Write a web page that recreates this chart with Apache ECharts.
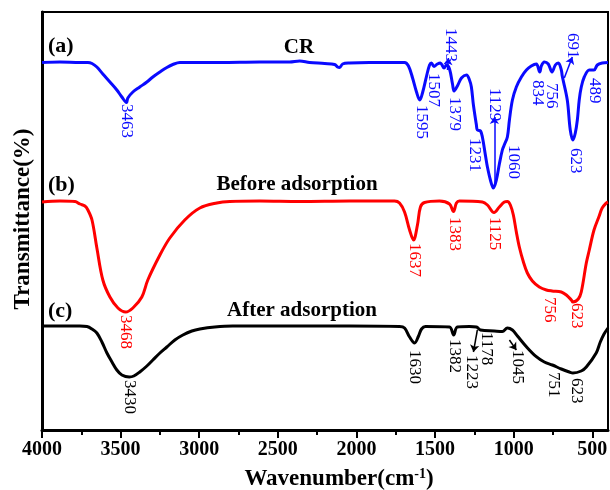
<!DOCTYPE html>
<html><head><meta charset="utf-8">
<script src="https://cdn.jsdelivr.net/npm/echarts@6/dist/echarts.min.js"></script>
<style>html,body{margin:0;padding:0;background:#fff}#c{width:610px;height:490px}</style>
</head><body><div id="c"></div>
<script>
// Wavenumber (cm-1) vs transmittance (arbitrary offset units)
const crData = [[4000,367.5],[3886,368],[3759,367.5],[3708,367.5],[3682,366.5],[3651,363],[3613,356],[3568,348],[3524,340],[3492,333],[3463,327.5],[3454,332],[3422,338],[3378,343],[3333,348],[3295,353],[3250,358],[3206,362.5],[3168,365.5],[3123,367.5],[2996,367.5],[2869,367.5],[2615,368],[2425,368],[2361,369],[2298,367.5],[2202,366.5],[2139,365.5],[2120,363],[2107,362.5],[2088,366],[2044,367],[1917,367.5],[1758,367.5],[1694,367.5],[1669,364],[1643,352],[1618,338],[1597,330],[1580,337],[1554,354],[1535,365],[1523,367],[1507,363.5],[1485,366],[1466,367],[1443,362],[1427,365],[1408,361],[1389,346],[1379,339],[1358,344],[1332,352],[1300,355],[1281,350],[1269,343],[1256,325],[1237,305],[1231,300],[1211,299],[1199,293],[1180,275],[1167,263],[1148,250],[1129,242],[1110,250],[1091,266],[1072,280],[1060,285],[1040,293],[1027,310],[1008,330],[983,343],[951,353],[919,360],[888,364],[856,366],[834,358],[824,364],[805,368],[780,366],[756,358],[735,365],[716,367],[697,360],[691,354],[659,330],[640,300],[623,290],[608,297],[595,310],[583,330],[570,343],[551,353],[519,360],[489,360],[468,365],[437,367],[400,367.5]];
const beforeData = [[4000,228],[3886,229],[3790,228.5],[3759,226],[3727,224],[3708,220],[3682,210],[3651,182],[3613,150],[3568,133],[3517,122],[3468,118],[3422,122],[3365,133],[3327,150],[3250,175],[3187,192],[3092,210],[2996,222],[2888,227],[2806,228.5],[2615,229],[2361,228.5],[2044,229],[1758,229],[1726,227],[1694,218],[1662,200],[1637,190],[1612,205],[1593,223],[1567,227.5],[1472,229],[1408,226],[1383,218.5],[1364,227],[1345,229],[1199,228],[1167,225],[1125,217.5],[1091,223],[1059,228],[1040,228.5],[1021,225],[1002,215],[983,198],[964,183],[938,168],[913,157],[881,149],[837,143],[792,140],[756,139],[697,138],[665,135],[633,130],[623,128],[589,131],[570,138],[538,167],[519,180],[489,200],[456,214],[437,222],[411,227],[400,228]];
const afterData = [[4000,104],[3759,104],[3714,103.5],[3682,101],[3651,97],[3619,88],[3587,77],[3555,68],[3524,60],[3492,55],[3445,53],[3416,54],[3378,58],[3333,64],[3295,70],[3250,77],[3206,83],[3155,90],[3104,95],[3047,99],[2996,101],[2901,103],[2787,104],[2361,104],[2044,104],[1726,103.5],[1694,102],[1662,93],[1630,87],[1605,94],[1586,101],[1561,103.5],[1408,103],[1382,95],[1358,103],[1281,103.5],[1237,103],[1211,100],[1123,99],[1072,98.5],[1040,102],[1008,100],[976,94],[919,83.3],[856,73.3],[805,68],[754,65],[697,61],[646,58],[623,57],[570,59],[538,63],[475,77],[449,88],[425,96],[400,102]];

const xTickValues = [500,1000,1500,2000,2500,3000,3500,4000];
const xMinorTickValues = [750,1250,1750,2250,2750,3250,3750];

// peak annotations: [wavenumber, transmittance at top of text, text]
const crPeaks = [[3463,326,'3463'],[1586,325,'1595'],[1507,357,'1507'],[1402,402,'1443'],[1374,333,'1379'],[1250,292,'1231'],[1123,342,'1129'],[1002,285,'1060'],[849,350,'834'],[760,347,'756'],[627,397,'691'],[608,282,'623'],[487,352,'489']];
const beforePeaks = [[3468,115,'3468'],[1631,187,'1637'],[1377,213,'1383'],[1123,213,'1125'],[773,133,'756'],[602,127,'623']];
const afterPeaks = [[3441,50,'3430'],[1631,80,'1630'],[1377,91,'1382'],[1269,75,'1223'],[1173,98,'1178'],[976,80,'1045'],[748,58,'751'],[602,52,'623']];
const crArrows = [[[1421,360],[1415,372]],[[1123,244],[1123,313]],[[678,352],[627,373]]];
const afterArrows = [[[1231,100],[1256,78]],[[1027,90],[983,80]]];

const FONT = '"Liberation Serif","Times New Roman",serif';
const BLUE = '#0a0aff', RED = '#ff0000', BLACK = '#000000';

function arrowLines(arr){ return arr.map(a => [{coord:a[0]},{coord:a[1]}]); }
function lineSeries(data, color, arrows){
  const s = {type:'line', data, showSymbol:false, smooth:0.35, color,
    lineStyle:{width:3, color}, animation:false, z:3};
  if (arrows) s.markLine = {silent:true, symbol:['none','arrow'], symbolSize:7, animation:false,
    label:{show:false}, lineStyle:{type:'solid', width:1.5, color}, data: arrowLines(arrows)};
  return s;
}

const chart = echarts.init(document.getElementById('c'), null, {renderer:'canvas'});
chart.setOption({
  backgroundColor:'#fff',
  animation:false,
  grid:{left:42, right:2, top:12, bottom:60, show:true, borderColor:'#000', borderWidth:2, containLabel:false, outerBoundsMode:'none'},
  xAxis:[{type:'value', inverse:true, min:400, max:4000, position:'bottom',
    axisLine:{show:true, lineStyle:{color:'#000', width:3}},
    axisTick:{show:true, inside:false, length:8, lineStyle:{width:2, color:'#000'}, customValues:xTickValues},
    axisLabel:{show:true, margin:10, color:'#000', fontFamily:FONT, fontWeight:'bold', fontSize:20, customValues:xTickValues, formatter: v => String(v), hideOverlap:false},
    splitLine:{show:false}},
   {type:'value', show:true, inverse:true, min:400, max:4000, position:'bottom', gridIndex:0,
    axisLine:{show:false},
    axisTick:{show:true, inside:false, length:5, lineStyle:{width:2, color:'#000'}, customValues:xMinorTickValues},
    axisLabel:{show:false}, splitLine:{show:false}}],
  yAxis:{type:'value', min:0, max:418,
    axisLine:{show:true, lineStyle:{color:'#000', width:3}},
    axisTick:{show:false}, axisLabel:{show:false}, splitLine:{show:false}},
  series:[lineSeries(crData, BLUE, crArrows), lineSeries(beforeData, RED, null), lineSeries(afterData, BLACK, afterArrows)]
});

const g = [];
function addPeaks(list, color){
  list.forEach(p => {
    const pt = chart.convertToPixel({xAxisIndex:0, yAxisIndex:0}, [p[0], p[1]]);
    g.push({type:'text', x:pt[0], y:pt[1], rotation:-Math.PI/2, z:10,
      style:{text:p[2], fill:color, font:'17px '+FONT, textAlign:'left', align:'left', textVerticalAlign:'middle', verticalAlign:'middle'}});
  });
}
addPeaks(crPeaks, BLUE); addPeaks(beforePeaks, RED); addPeaks(afterPeaks, BLACK);
function addText(x, y, text, size, align, rot){
  g.push({type:'text', x, y, rotation:rot||0, z:10,
    style:{text, fill:'#000', font:'bold '+size+'px '+FONT, textAlign:align, align:align, textVerticalAlign:'middle', verticalAlign:'middle'}});
}
addText(48, 46, '(a)', 22, 'left');
addText(299, 48, 'CR', 21, 'center');
addText(48, 185, '(b)', 22, 'left');
addText(297, 185, 'Before adsorption', 21, 'center');
addText(48, 311, '(c)', 22, 'left');
addText(302, 311, 'After adsorption', 21, 'center');
addText(23, 219, 'Transmittance(%)', 23, 'center', Math.PI/2);
g.push({type:'text', x:339, y:479, z:10,
  style:{text:'{a|Wavenumber(cm}{s|-1}{a|)}', align:'center', textAlign:'center', verticalAlign:'middle', textVerticalAlign:'middle',
    rich:{a:{font:'bold 23px '+FONT, fill:'#000', color:'#000', verticalAlign:'bottom'},
          s:{font:'bold 14px '+FONT, fill:'#000', color:'#000', verticalAlign:'top'}}}});
chart.setOption({graphic:{elements:g}});
</script></body></html>
